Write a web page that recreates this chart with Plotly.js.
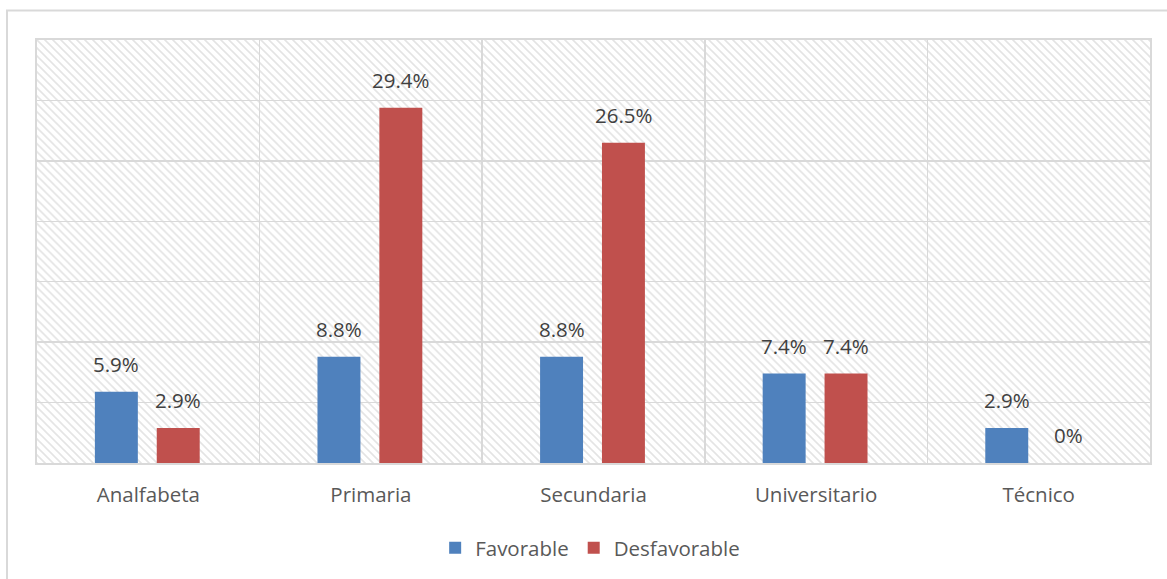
<!DOCTYPE html>
<html>
<head>
<meta charset="utf-8">
<script src="https://cdn.plot.ly/plotly-3.0.1.min.js"></script>
<style>html,body{margin:0;padding:0;background:#fff;}#chart{width:1167px;height:579px;}</style>
</head>
<body>
<div id="chart"></div>
<script>
// ---- data ----
var categories = ["Analfabeta", "Primaria", "Secundaria", "Universitario", "Técnico"];
var favorable = [5.9, 8.8, 8.8, 7.4, 2.9];
var desfavorable = [2.9, 29.4, 26.5, 7.4, 0];
var seriesNames = ["Favorable", "Desfavorable"];

// ---- style ----
var FONT = "Open Sans, Liberation Sans, sans-serif";
var colors = ["#4F81BD", "#C0504D"];
var gridColor = "#d9d9d9";
var plotW = 1113, plotH = 424;
var L = 37, T = 40;

function fmt(v) { return v === 0 ? "0%" : v.toFixed(1) + "%"; }

var seriesVals = [favorable, desfavorable];
var offsets = [-0.24, 0.038];
var barWidth = 0.193;
var labelShift = [-32, 30];

var traces = seriesVals.map(function (vals, i) {
  return {
    type: "bar",
    name: seriesNames[i],
    x: categories,
    y: vals,
    width: barWidth,
    offset: offsets[i],
    marker: { color: colors[i], line: { width: 0 } },
    hoverinfo: "x+y"
  };
});

var annotations = [];
seriesVals.forEach(function (vals, i) {
  vals.forEach(function (v, j) {
    annotations.push({
      x: categories[j], y: v, xref: "x", yref: "y",
      text: fmt(v), showarrow: false,
      xanchor: "center", yanchor: "bottom",
      xshift: labelShift[i], yshift: 12,
      font: { family: FONT, size: 20.5, color: "#404040" }
    });
  });
});

// hatched background pattern
var svg = '<svg xmlns="http://www.w3.org/2000/svg" width="' + plotW + '" height="' + plotH + '" viewBox="0 0 ' + plotW + ' ' + plotH + '">' +
  '<defs><pattern id="p" width="8" height="8" patternUnits="userSpaceOnUse">' +
  '<path d="M-2,-2 L10,10 M-2,6 L2,10 M6,-2 L10,2" stroke="#e4e4e4" stroke-width="1.6"/></pattern></defs>' +
  '<rect width="100%" height="100%" fill="#ffffff"/><rect width="100%" height="100%" fill="url(#p)"/></svg>';
var imgSrc = "data:image/svg+xml;charset=utf-8," + encodeURIComponent(svg);

var layout = {
  width: 1167, height: 579,
  margin: { l: L, r: 1167 - L - plotW, t: T, b: 579 - T - plotH, pad: 0 },
  paper_bgcolor: "#ffffff",
  plot_bgcolor: "rgba(0,0,0,0)",
  barmode: "overlay",
  font: { family: FONT, size: 20.5, color: "#595959" },
  xaxis: {
    type: "category",
    tickson: "boundaries",
    showgrid: true, gridcolor: gridColor, gridwidth: 1.5,
    showline: true, linecolor: gridColor, linewidth: 2, mirror: true,
    ticks: "", ticklen: 0, ticklabelstandoff: 12,
    tickfont: { family: FONT, size: 20.5, color: "#595959" },
    zeroline: false, fixedrange: true
  },
  yaxis: {
    range: [0, 35], dtick: 5, tick0: 0,
    showgrid: true, gridcolor: gridColor, gridwidth: 1.5,
    showline: true, linecolor: gridColor, linewidth: 2, mirror: true,
    showticklabels: false, ticks: "",
    zeroline: false, fixedrange: true
  },
  showlegend: true,
  legend: {
    orientation: "h", x: 0.497, xanchor: "center", y: -0.198, yanchor: "middle",
    font: { family: FONT, size: 20.5, color: "#595959" },
    bgcolor: "rgba(0,0,0,0)", traceorder: "normal"
  },
  images: [{
    source: imgSrc, xref: "paper", yref: "paper",
    x: 0, y: 1, sizex: 1, sizey: 1, xanchor: "left", yanchor: "top",
    sizing: "stretch", layer: "below"
  }],
  shapes: [{
    type: "rect", xref: "paper", yref: "paper",
    x0: (7 - L) / plotW, x1: 1.1, y0: -0.5, y1: (T + plotH - 10.5) / plotH,
    line: { color: gridColor, width: 2 }, fillcolor: "rgba(0,0,0,0)", layer: "below"
  }],
  annotations: annotations
};

Plotly.newPlot("chart", traces, layout, { displayModeBar: false, staticPlot: true });
</script>
</body>
</html>
